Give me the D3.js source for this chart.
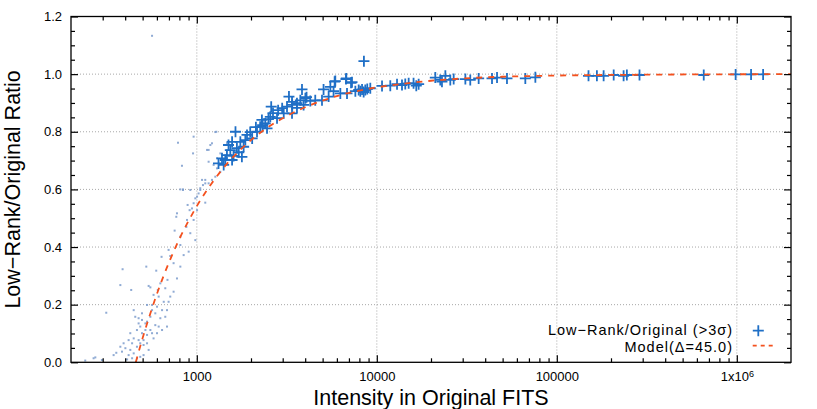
<!DOCTYPE html>
<html lang="en">

<head>
    <meta charset="UTF-8">
    <title>Low-Rank / Original Ratio</title>
    <style>
        body {
            margin: 0;
            background: #fff;
        }

        svg {
            display: block;
            font-family: "Liberation Sans", Arial, sans-serif;
        }

        .grid line {
            stroke: #a8a8a8;
            stroke-width: 1;
            stroke-dasharray: 1, 2;
        }
    </style>
    <script src="https://d3js.org/d3.v7.min.js"></script>
</head>

<body>
    <svg width="817" height="409"></svg>

    <script>
        // tick values
        const intensityTicks = [1000, 10000, 100000, 1000000];
        const ratioTicks = [0, 0.2, 0.4, 0.6, 0.8, 1.0, 1.2];

        // "+" points : intensity / ratio (>3 sigma)
        const crossIntensity = [
            3250, 2590, 3170, 3600, 3380, 2790, 2560, 2400, 2250, 2160,
            1640, 1900, 2030, 1745, 1570, 1820, 1670, 1535, 1780, 1470,
            1380, 1570, 1410, 1320, 3040, 2300, 2455,
            1500, 1710, 1440, 1600, 1860, 1980, 2130, 2320, 2500, 2650, 2830, 2980,
            3390, 3760, 4070,
            8480, 3840, 5060, 5880, 6770, 7280, 5520, 5750, 6270, 4010,
            4270, 4550, 4960, 3380, 3600, 3920, 5400, 6830, 7600, 7930,
            8280, 8630, 9200, 8100, 8850, 8450, 6740, 7190, 5830,
            10690, 11880, 12950, 14390, 15030, 13800,
            16000, 16570, 17080, 21130, 22520, 24030, 23010, 25600, 26730,
            31040, 33050, 36800, 43650, 46540, 52860, 66840, 76000,
            150000, 167000, 182000, 207000, 235000, 245000, 288000,
            655000, 985000, 1200000, 1400000
        ];
        const crossRatio = [
            0.922, 0.887, 0.887, 0.899, 0.864, 0.847, 0.852, 0.829, 0.817, 0.800,
            0.800, 0.789, 0.777, 0.765, 0.765, 0.748, 0.743, 0.736, 0.713, 0.719,
            0.708, 0.702, 0.685, 0.690, 0.864, 0.841, 0.812,
            0.754, 0.729, 0.702, 0.716, 0.771, 0.799, 0.816, 0.823, 0.844, 0.865, 0.875, 0.882,
            0.893, 0.909, 0.920,
            1.045, 0.947, 0.947, 0.976, 0.985, 0.972, 0.956, 0.941, 0.933, 0.916,
            0.907, 0.909, 0.909, 0.904, 0.883, 0.893, 0.922, 0.933, 0.941, 0.945,
            0.947, 0.945, 0.951, 0.941, 0.948, 0.938, 0.983, 0.970, 0.974,
            0.959, 0.960, 0.965, 0.966, 0.968, 0.962,
            0.968, 0.960, 0.965, 0.988, 0.980, 0.994, 0.974, 0.980, 0.983,
            0.983, 0.980, 0.985, 0.985, 0.988, 0.985, 0.985, 0.989,
            0.994, 0.994, 0.994, 0.997, 0.994, 0.997, 0.997,
            0.997, 0.999, 0.999, 0.999
        ];

        // small dots : all pixels
        const dotIntensity = [
            564, 786, 960, 953, 827, 838, 314, 387, 376, 432,
            240, 273, 297, 524, 540, 552, 637, 595, 627, 575,
            607, 697, 712, 743, 776, 743, 697, 753, 776, 769,
            810, 875, 882, 912, 940, 960, 981, 920, 889, 981,
            1023, 1045, 1114, 1082, 1114, 1163, 1214, 1267, 920, 810,
            838,
            446, 455, 475, 496, 518, 552, 564, 588, 627, 588,
            552, 529, 496, 465, 427, 418, 392, 401, 427, 446,
            418, 384, 357, 345, 465, 485, 506, 475, 529, 540,
            506, 485, 465, 437, 410, 267, 668, 683, 641, 601,
            575, 446, 376, 655, 614, 564, 529, 496, 518, 485,
            1140, 1163, 1267, 1214, 1295, 1471, 1351, 1069, 1045, 1003,
            1114, 1295, 1283, 1189, 1163, 1351, 1240,
            437, 506, 564, 614, 529, 475, 601, 641, 683, 712,
            668, 687, 810, 845, 810, 901, 960, 1003
        ];
        const dotRatio = [
            1.133, 0.762, 0.783, 0.725, 0.682, 0.600, 0.172, 0.323, 0.268, 0.251,
            0.006, 0.017, 0.008, 0.332, 0.265, 0.260, 0.366, 0.318, 0.274, 0.234,
            0.251, 0.390, 0.369, 0.344, 0.291, 0.245, 0.210, 0.457, 0.517, 0.505,
            0.436, 0.470, 0.494, 0.528, 0.534, 0.494, 0.424, 0.448, 0.546, 0.569,
            0.586, 0.598, 0.554, 0.615, 0.633, 0.621, 0.633, 0.644, 0.598, 0.600,
            0.598,
            0.181, 0.158, 0.135, 0.147, 0.135, 0.158, 0.181, 0.170, 0.153, 0.129,
            0.112, 0.095, 0.101, 0.112, 0.101, 0.077, 0.066, 0.049, 0.043, 0.031,
            0.025, 0.037, 0.033, 0.025, 0.054, 0.066, 0.077, 0.077, 0.066, 0.043,
            0.025, 0.019, 0.014, 0.014, 0.010, 0.014, 0.158, 0.124, 0.112, 0.101,
            0.083, 0.083, 0.054, 0.210, 0.228, 0.199, 0.199, 0.170, 0.112, 0.124,
            0.737, 0.696, 0.799, 0.760, 0.708, 0.760, 0.661, 0.633, 0.604, 0.575,
            0.621, 0.673, 0.800, 0.754, 0.737, 0.725, 0.685,
            0.066, 0.060, 0.101, 0.124, 0.141, 0.153, 0.193, 0.181, 0.181, 0.228,
            0.257, 0.286, 0.332, 0.372, 0.407, 0.384, 0.552, 0.528
        ];

        // model curve, Delta = 45.0
        const modelIntensity = [458, 500, 550, 600, 700, 800, 900, 1000, 1200, 1500,
            2000, 2500, 3000, 4000, 5000, 6000, 8000, 10000, 15000, 20000,
            30000, 50000, 100000, 300000, 1000000, 2000000];
        const modelRatio = [0, 0.084, 0.167, 0.237, 0.346, 0.428, 0.491, 0.542, 0.618, 0.695,
            0.771, 0.817, 0.847, 0.885, 0.908, 0.924, 0.943, 0.954, 0.969, 0.977,
            0.985, 0.991, 0.995, 0.998, 0.9995, 1.0];

        const crossColor = '#1f6fc6';
        const dotColor = '#7c9ccd';
        const modelColor = '#f4511e';

        let plotLeft = 71, plotRight = 791, plotTop = 16.5, plotBottom = 362.3;

        let svg = d3.select('svg');

        let x = d3.scaleLog().domain([200, 2000000]).range([plotLeft, plotRight]);
        let y = d3.scaleLinear().domain([0, 1.2]).range([plotBottom, plotTop]);

        // minor tick positions
        let minorX = [];
        for (let d = 100; d <= 1000000; d *= 10) {
            for (let m = 2; m <= 9; m++) {
                let v = d * m;
                if (v > 200 && v < 2000000) minorX.push(v);
            }
        }
        let minorY = d3.range(0, 1.2001, 0.05).filter(v => Math.abs(v / 0.2 - Math.round(v / 0.2)) > 0.01);

        // grid
        let grid = svg.append('g').attr('class', 'grid');
        grid.selectAll('.gx')
            .data(intensityTicks)
            .join('line')
            .attr('class', 'gx')
            .attr('x1', d => x(d)).attr('x2', d => x(d))
            .attr('y1', plotTop).attr('y2', plotBottom);
        grid.selectAll('.gy')
            .data(ratioTicks.filter(d => d > 0 && d < 1.2))
            .join('line')
            .attr('class', 'gy')
            .attr('x1', plotLeft).attr('x2', plotRight)
            .attr('y1', d => y(d)).attr('y2', d => y(d));

        // clip
        svg.append('clipPath').attr('id', 'plot')
            .append('rect')
            .attr('x', plotLeft).attr('y', plotTop)
            .attr('width', plotRight - plotLeft).attr('height', plotBottom - plotTop);

        let plot = svg.append('g').attr('clip-path', 'url(#plot)');

        // dots
        plot.selectAll('.dot')
            .data(dotIntensity)
            .join('rect')
            .attr('class', 'dot')
            .attr('x', (d, i) => x(d) - 1)
            .attr('y', (d, i) => y(dotRatio[i]) - 1)
            .attr('width', 2)
            .attr('height', 2)
            .attr('fill', dotColor)
            .attr('opacity', 0.85);

        // crosses
        let cross = (cx, cy, r) => `M${cx - r},${cy}H${cx + r}M${cx},${cy - r}V${cy + r}`;

        plot.selectAll('.cross')
            .data(crossIntensity)
            .join('path')
            .attr('class', 'cross')
            .attr('d', (d, i) => cross(x(d), y(crossRatio[i]), 5.5))
            .attr('stroke', crossColor)
            .attr('stroke-width', 1.8)
            .attr('fill', 'none');

        // model line
        let line = d3.line()
            .x((d, i) => x(d))
            .y((d, i) => y(modelRatio[i]))
            .curve(d3.curveMonotoneX);

        plot.append('path')
            .attr('d', line(modelIntensity))
            .attr('fill', 'none')
            .attr('stroke', modelColor)
            .attr('stroke-width', 1.8)
            .attr('stroke-dasharray', '6,6');

        // axes (ticks point inward, mirrored)
        let axes = svg.append('g');

        function styleAxis(g) {
            g.select('.domain').remove();
            g.selectAll('line').attr('stroke', '#000').attr('stroke-width', 1.2);
            g.selectAll('text')
                .attr('font-family', '"Liberation Sans", Arial, sans-serif')
                .attr('font-size', 13)
                .attr('fill', '#000');
        }

        let xb = axes.append('g').attr('transform', `translate(0,${plotBottom})`)
            .call(d3.axisBottom(x).tickValues(intensityTicks).tickSize(-7).tickFormat(''));
        styleAxis(xb);
        xb.selectAll('.tick text').remove();
        xb.selectAll('.tick').append('text')
            .attr('y', 9.5).attr('dy', '0.71em')
            .attr('text-anchor', 'middle')
            .attr('font-size', 13)
            .attr('fill', '#000')
            .each(function (d) {
                let t = d3.select(this);
                if (d >= 1000000) {
                    t.append('tspan').text('1x10');
                    t.append('tspan').attr('dy', '-0.45em').attr('font-size', 9).text(Math.log10(d));
                } else {
                    t.text(d);
                }
            });
        styleAxis(axes.append('g').attr('transform', `translate(0,${plotBottom})`)
            .call(d3.axisBottom(x).tickValues(minorX).tickSize(-4).tickFormat('')));
        styleAxis(axes.append('g').attr('transform', `translate(0,${plotTop})`)
            .call(d3.axisTop(x).tickValues(intensityTicks).tickSize(-7).tickFormat('')));
        styleAxis(axes.append('g').attr('transform', `translate(0,${plotTop})`)
            .call(d3.axisTop(x).tickValues(minorX).tickSize(-4).tickFormat('')));

        styleAxis(axes.append('g').attr('transform', `translate(${plotLeft},0)`)
            .call(d3.axisLeft(y).tickValues(ratioTicks).tickSize(-7).tickPadding(9).tickFormat(d3.format('.1f'))));
        styleAxis(axes.append('g').attr('transform', `translate(${plotLeft},0)`)
            .call(d3.axisLeft(y).tickValues(minorY).tickSize(-4).tickFormat('')));
        styleAxis(axes.append('g').attr('transform', `translate(${plotRight},0)`)
            .call(d3.axisRight(y).tickValues(ratioTicks).tickSize(-7).tickFormat('')));
        styleAxis(axes.append('g').attr('transform', `translate(${plotRight},0)`)
            .call(d3.axisRight(y).tickValues(minorY).tickSize(-4).tickFormat('')));

        // frame
        svg.append('rect')
            .attr('x', plotLeft).attr('y', plotTop)
            .attr('width', plotRight - plotLeft).attr('height', plotBottom - plotTop)
            .attr('fill', 'none')
            .attr('stroke', '#000')
            .attr('stroke-width', 1.3);

        // axis titles
        svg.append('text')
            .attr('x', (plotLeft + plotRight) / 2).attr('y', 405)
            .attr('text-anchor', 'middle')
            .attr('font-size', 21.5)
            .text('Intensity in Original FITS');

        svg.append('text')
            .attr('transform', `translate(19.5,${(plotTop + plotBottom) / 2}) rotate(-90)`)
            .attr('text-anchor', 'middle')
            .attr('font-size', 21.5)
            .text('Low\u2212Rank/Original Ratio');

        // legend
        let legend = svg.append('g').attr('font-size', 14.5).attr('letter-spacing', 1.0);
        legend.append('text')
            .attr('x', 733).attr('y', 335.2)
            .attr('text-anchor', 'end')
            .text('Low\u2212Rank/Original (>3\u03c3)');
        legend.append('path')
            .attr('d', cross(758.3, 330.7, 5.5))
            .attr('stroke', crossColor)
            .attr('stroke-width', 1.8);
        legend.append('text')
            .attr('x', 733).attr('y', 351.6)
            .attr('text-anchor', 'end')
            .text('Model(\u0394=45.0)');
        legend.append('line')
            .attr('x1', 752.7).attr('x2', 773.3)
            .attr('y1', 345.7).attr('y2', 345.7)
            .attr('stroke', modelColor)
            .attr('stroke-width', 1.8)
            .attr('stroke-dasharray', '4,4');
    </script>
</body>

</html>
